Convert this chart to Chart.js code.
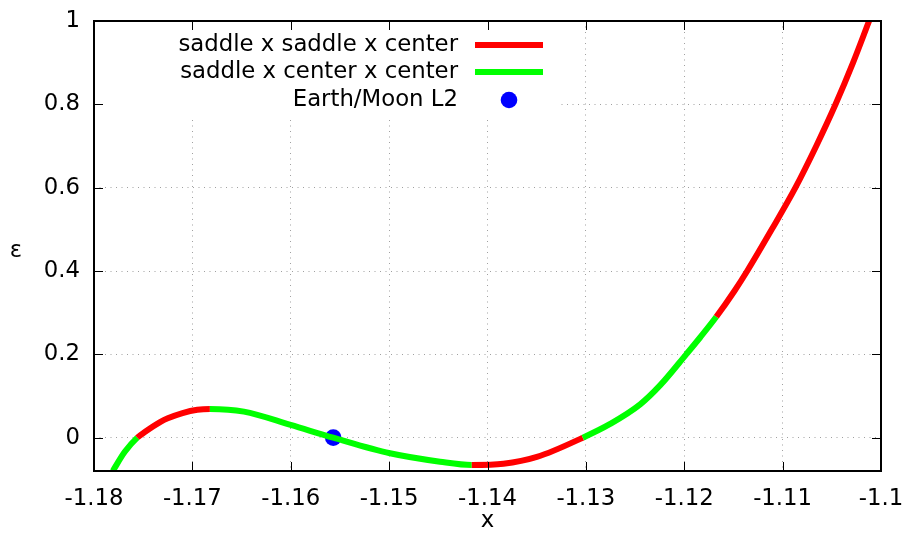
<!DOCTYPE html>
<html>
<head>
<meta charset="utf-8">
<script src="https://cdn.jsdelivr.net/npm/chart.js@4.4.0/dist/chart.umd.min.js"></script>
<style>
  html, body { margin: 0; padding: 0; background: #fff; }
</style>
</head>
<body>
<canvas id="myChart" width="904" height="539"></canvas>
<script>
// family of equilibria: position x against epsilon
const curveX = [-1.17809, -1.17687, -1.1756, -1.1748, -1.17324, -1.1725, -1.171, -1.1695,
                -1.16822, -1.16476, -1.16001, -1.15568, -1.14991, -1.14482, -1.1416, -1.13838,
                -1.13498, -1.13031, -1.12753, -1.12448, -1.12244, -1.1198, -1.11837, -1.11674,
                -1.1149, -1.1136, -1.1111, -1.1087, -1.10658, -1.10462, -1.10284, -1.10121];
const curveY = [-0.080, -0.034, 0.0, 0.0141, 0.0378, 0.0465, 0.0591, 0.0669,
                0.0688, 0.0624, 0.0305, 0.0, -0.0374, -0.0576, -0.0655, -0.0626,
                -0.0463, 0.0, 0.033, 0.080, 0.126, 0.2, 0.241, 0.290,
                0.352, 0.4, 0.5, 0.6, 0.7, 0.8, 0.9, 1.0];

// x values where the stability type switches
const stabilityChanges = [-1.1756, -1.16822, -1.1416, -1.13031, -1.11674];
const branchLabels = ["saddle x saddle x center", "saddle x center x center"];
const branchColors = ["#ff0000", "#00ff00"];

const l2X = [-1.15568];
const l2Y = [0];
const l2Label = "Earth/Moon L2";

const xTicks = [-1.18, -1.17, -1.16, -1.15, -1.14, -1.13, -1.12, -1.11, -1.1];
const yTicks = [0, 0.2, 0.4, 0.6, 0.8, 1];

// curve starts on the center x center branch, flips at every change
const branchAt = (x) => {
  let n = 0;
  stabilityChanges.forEach(c => { if (x >= c - 1e-9) n++; });
  return n % 2 === 0 ? 1 : 0;
};

const fmt = (v) => String(parseFloat(Number(v).toFixed(2)));

const FONT = "'DejaVu Sans', sans-serif";
const FONT_SIZE = 22.8;
Chart.defaults.font.family = FONT;
Chart.defaults.font.size = FONT_SIZE;
Chart.defaults.color = "#000";

// gnuplot style key, border and inward ticks
const framePlugin = {
  id: "frame",
  beforeDatasetsDraw(chart) {
    const ctx = chart.ctx;
    const a = chart.chartArea;
    ctx.save();
    // key box hides the grid behind it
    ctx.fillStyle = "#fff";
    ctx.fillRect(a.left + 1, a.top + 1, 462, 96);

    ctx.font = FONT_SIZE + "px " + FONT;
    ctx.fillStyle = "#000";
    ctx.textAlign = "right";
    ctx.textBaseline = "middle";
    const textRight = a.left + 364;
    const rows = [a.top + 24, a.top + 51, a.top + 79];
    const labels = [branchLabels[0], branchLabels[1], l2Label];
    labels.forEach((t, i) => ctx.fillText(t, textRight, rows[i]));

    ctx.lineWidth = 6;
    [0, 1].forEach(i => {
      ctx.strokeStyle = branchColors[i];
      ctx.beginPath();
      ctx.moveTo(a.left + 381, rows[i]);
      ctx.lineTo(a.left + 449, rows[i]);
      ctx.stroke();
    });
    ctx.fillStyle = "#0000ff";
    ctx.beginPath();
    ctx.arc(a.left + 415, rows[2], 8.3, 0, Math.PI * 2);
    ctx.fill();
    ctx.restore();
  },
  afterDraw(chart) {
    const ctx = chart.ctx;
    const a = chart.chartArea;
    const xs = chart.scales.x;
    const ys = chart.scales.y;
    const tl = 9;
    ctx.save();
    ctx.strokeStyle = "#000";
    ctx.lineWidth = 1;
    ctx.beginPath();
    xTicks.forEach(v => {
      const px = Math.round(xs.getPixelForValue(v)) + 0.5;
      ctx.moveTo(px, a.bottom); ctx.lineTo(px, a.bottom - tl);
      ctx.moveTo(px, a.top); ctx.lineTo(px, a.top + tl);
    });
    yTicks.forEach(v => {
      const py = Math.round(ys.getPixelForValue(v)) + 0.5;
      ctx.moveTo(a.left, py); ctx.lineTo(a.left + tl, py);
      ctx.moveTo(a.right, py); ctx.lineTo(a.right - tl, py);
    });
    ctx.stroke();
    ctx.lineWidth = 2;
    ctx.strokeRect(a.left, a.top, a.right - a.left, a.bottom - a.top);

    ctx.font = FONT_SIZE + "px " + FONT;
    ctx.fillStyle = "#000";
    ctx.textAlign = "center";
    ctx.textBaseline = "alphabetic";
    ctx.fillText("ε", 16, 257);
    ctx.restore();
  }
};

const ctx = document.getElementById("myChart").getContext("2d");
const myChart = new Chart(ctx, {
  type: "line",
  data: {
    datasets: [
      {
        label: branchLabels[0],
        data: curveX.map((x, i) => ({ x: x, y: curveY[i] })),
        borderColor: branchColors[0],
        borderWidth: 6,
        pointRadius: 0,
        cubicInterpolationMode: "monotone",
        clip: 0,
        segment: {
          borderColor: (c) => branchColors[branchAt(c.p0.parsed.x)]
        }
      },
      {
        label: l2Label,
        data: l2X.map((x, i) => ({ x: x, y: l2Y[i] })),
        showLine: false,
        pointRadius: 8.3,
        pointBorderWidth: 0,
        pointBackgroundColor: "#0000ff",
        pointBorderColor: "#0000ff"
      }
    ]
  },
  options: {
    responsive: false,
    animation: false,
    layout: { padding: { left: 0, top: 21, right: 23, bottom: 0 } },
    plugins: {
      legend: { display: false },
      tooltip: { enabled: false }
    },
    scales: {
      x: {
        type: "linear",
        min: -1.18,
        max: -1.1,
        afterBuildTicks: (s) => { s.ticks = xTicks.map(v => ({ value: v })); },
        afterFit: (s) => { s.height = 68; s.paddingLeft = 0; s.paddingRight = 0; },
        ticks: { callback: fmt, padding: 14, maxRotation: 0, autoSkip: false },
        grid: { color: "#a0a0a0", lineWidth: 1, drawTicks: false },
        border: { display: false, dash: [1, 4.5] },
        title: { display: true, text: "x", padding: { top: 0, bottom: 4 } }
      },
      y: {
        type: "linear",
        min: -0.08,
        max: 1,
        afterBuildTicks: (s) => { s.ticks = yTicks.map(v => ({ value: v })); },
        afterFit: (s) => { s.width = 94; s.paddingTop = 0; s.paddingBottom = 0; },
        ticks: { callback: fmt, padding: 14, autoSkip: false },
        grid: { color: "#a0a0a0", lineWidth: 1, drawTicks: false },
        border: { display: false, dash: [1, 4.5] }
      }
    }
  },
  plugins: [framePlugin]
});
</script>
</body>
</html>
